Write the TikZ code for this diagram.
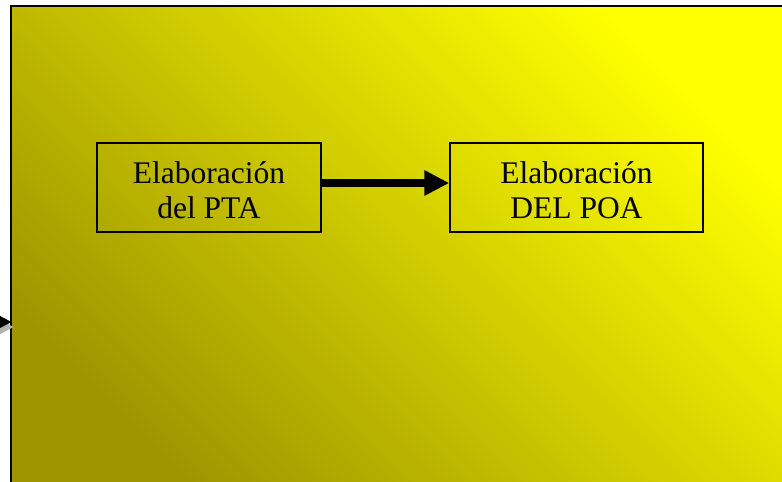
\documentclass[tikz,border=0pt]{standalone}
\usepackage{fontspec}
\setmainfont{Liberation Serif}
\usetikzlibrary{arrows,arrows.meta}
\usetikzlibrary{calc}
\definecolor{oliva}{RGB}{158, 150, 0}
\definecolor{amarillo}{RGB}{255, 255, 0}
\newcommand{\bajar}[1]{\raisebox{-6pt}[\height][\depth]{\begin{tabular}{@{}c@{}}#1\end{tabular}}}
\tikzset{
  caja/.style={draw=black, line width=1.5pt, minimum height=89pt, align=center,
    font=\fontsize{31.5}{35}\selectfont, inner sep=0pt},
  flecha/.style={line width=8pt, -{Triangle[length=25pt, width=24pt]}},
}

\begin{document}
\begin{tikzpicture}[x=1pt, y=-1pt]

    \useasboundingbox (0,0) rectangle (782,482);
    \fill[white] (0,0) rectangle (782,482);

    % fondo con degradado
    \shade[bottom color=oliva, top color=amarillo, shading angle=-45] (11,6) rectangle (790,490);
    \draw[line width=2pt] (11,490) -- (11,6) -- (790,6);

    % flecha que entra por la izquierda
    \coordinate (entrada) at (-30,322);
    \coordinate (borde) at (12,322);
    \coordinate (entradaS) at (-28,327);
    \coordinate (bordeS) at (14,327);
    \draw[gray!60, flecha] (entradaS) -- (bordeS);
    \draw[flecha] (entrada) -- (borde);

    \node[caja, minimum width=224pt] (pta) at (209,187.5) {\bajar{Elaboración\\del PTA}};
    \node[caja, minimum width=253pt] (poa) at (576.5,187.5) {\bajar{Elaboración\\DEL POA}};

    \draw[flecha] ([yshift=4.5pt]pta.east) -- ([yshift=4.5pt]poa.west);

\end{tikzpicture}
\end{document}
